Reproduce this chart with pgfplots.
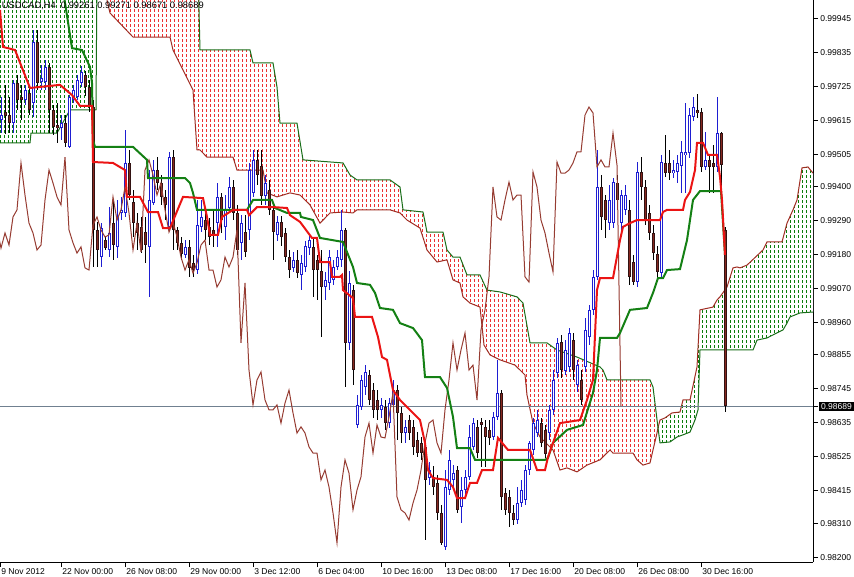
\documentclass[border=0pt]{standalone}
\usepackage{fontspec}
\setmainfont{Liberation Sans}
\usepackage{pgfplots}
\pgfplotsset{compat=1.18}
\usepackage{pgfplotstable}
\usepgfplotslibrary{fillbetween}

\definecolor{bullblue}{RGB}{30,30,210}
\definecolor{bearout}{RGB}{50,18,18}
\definecolor{bearin}{RGB}{135,40,32}
\definecolor{tenkan}{RGB}{235,20,20}
\definecolor{kijun}{RGB}{20,128,20}
\definecolor{chikou}{RGB}{150,60,50}
\definecolor{spanA}{RGB}{160,45,35}
\definecolor{spanB}{RGB}{25,110,25}
\definecolor{cloudred}{RGB}{235,50,50}
\definecolor{cloudgreen}{RGB}{10,125,10}
\definecolor{priceline}{RGB}{112,128,144}

% t = trading hours from first bar (4 h per bar), u = 1 bullish / 0 bearish
\pgfplotstableread{
t u o h l c
0 1 0.99616 0.99691 0.99574 0.99632
4 0 0.99642 0.99730 0.99574 0.99629
8 0 0.99632 0.99691 0.99574 0.99606
12 1 0.99606 0.99746 0.99574 0.99736
16 0 0.99736 0.99762 0.99649 0.99681
20 0 0.99691 0.99730 0.99616 0.99681
24 1 0.99681 0.99730 0.99665 0.99713
28 0 0.99704 0.99730 0.99632 0.99649
32 1 0.99671 0.99908 0.99626 0.99869
36 0 0.99869 0.99908 0.99713 0.99736
40 1 0.99739 0.99794 0.99713 0.99752
44 1 0.99739 0.99811 0.99713 0.99788
48 0 0.99788 0.99801 0.99574 0.99649
52 0 0.99649 0.99665 0.99568 0.99594
56 0 0.99600 0.99671 0.99542 0.99590
60 1 0.99590 0.99632 0.99551 0.99606
64 0 0.99606 0.99632 0.99529 0.99542
68 1 0.99529 0.99697 0.99525 0.99691
72 1 0.99681 0.99730 0.99671 0.99713
76 1 0.99691 0.99762 0.99681 0.99746
80 1 0.99739 0.99794 0.99723 0.99772
84 0 0.99762 0.99778 0.99697 0.99723
88 0 0.99723 0.99746 0.99642 0.99658
92 0 0.99658 0.99681 0.99140 0.99260
96 0 0.99260 0.99286 0.99140 0.99195
100 1 0.99172 0.99282 0.99140 0.99266
104 0 0.99227 0.99237 0.99195 0.99201
108 1 0.99195 0.99334 0.99172 0.99250
112 0 0.99282 0.99357 0.99163 0.99211
116 1 0.99205 0.99357 0.99169 0.99302
120 1 0.99315 0.99367 0.99292 0.99325
124 1 0.99315 0.99584 0.99302 0.99477
128 0 0.99477 0.99519 0.99357 0.99373
132 0 0.99351 0.99389 0.99237 0.99282
136 0 0.99282 0.99315 0.99195 0.99250
140 0 0.99270 0.99302 0.99185 0.99195
144 0 0.99253 0.99302 0.99153 0.99211
148 1 0.99205 0.99454 0.99043 0.99357
152 1 0.99347 0.99487 0.99341 0.99454
156 0 0.99454 0.99496 0.99389 0.99412
160 0 0.99412 0.99438 0.99341 0.99367
164 0 0.99367 0.99389 0.99292 0.99341
168 1 0.99270 0.99513 0.99260 0.99496
172 0 0.99496 0.99519 0.99195 0.99260
176 0 0.99260 0.99270 0.99195 0.99218
180 0 0.99218 0.99237 0.99163 0.99185
184 1 0.99179 0.99227 0.99169 0.99205
188 0 0.99205 0.99227 0.99108 0.99137
192 0 0.99153 0.99179 0.99108 0.99130
196 1 0.99130 0.99357 0.99120 0.99276
200 1 0.99270 0.99357 0.99253 0.99302
204 0 0.99292 0.99325 0.99227 0.99260
208 0 0.99270 0.99299 0.99211 0.99237
212 0 0.99260 0.99325 0.99205 0.99244
216 1 0.99282 0.99412 0.99205 0.99367
220 0 0.99367 0.99380 0.99250 0.99292
224 1 0.99270 0.99373 0.99227 0.99325
228 1 0.99334 0.99432 0.99315 0.99399
232 0 0.99399 0.99422 0.99292 0.99315
236 0 0.99315 0.99341 0.99179 0.99195
240 1 0.99218 0.99308 0.99163 0.99282
244 0 0.99253 0.99308 0.99172 0.99189
248 1 0.99260 0.99477 0.99227 0.99454
252 1 0.99380 0.99519 0.99367 0.99487
256 0 0.99487 0.99519 0.99406 0.99438
260 0 0.99470 0.99519 0.99341 0.99373
264 1 0.99373 0.99438 0.99341 0.99412
268 0 0.99389 0.99422 0.99308 0.99325
272 0 0.99325 0.99341 0.99163 0.99253
276 1 0.99244 0.99308 0.99227 0.99286
280 0 0.99286 0.99308 0.99211 0.99237
284 0 0.99250 0.99266 0.99156 0.99172
288 0 0.99172 0.99195 0.99104 0.99130
292 1 0.99137 0.99189 0.99124 0.99163
296 0 0.99163 0.99195 0.99104 0.99120
300 1 0.99114 0.99179 0.99065 0.99153
304 1 0.99140 0.99227 0.99124 0.99211
308 1 0.99201 0.99244 0.99179 0.99227
312 0 0.99205 0.99237 0.99043 0.99130
316 0 0.99163 0.99179 0.99033 0.99130
320 0 0.99130 0.99195 0.98913 0.99075
324 1 0.99075 0.99124 0.99033 0.99098
328 1 0.99088 0.99195 0.99065 0.99172
332 1 0.99098 0.99163 0.99082 0.99140
336 1 0.99140 0.99195 0.99130 0.99172
340 1 0.99163 0.99325 0.99140 0.99260
344 0 0.99260 0.99266 0.98751 0.98894
348 1 0.98894 0.99130 0.98871 0.99088
352 0 0.99065 0.99082 0.98758 0.98806
356 1 0.98628 0.98725 0.98618 0.98693
360 1 0.98686 0.98790 0.98677 0.98774
364 1 0.98751 0.98822 0.98725 0.98800
368 0 0.98790 0.98806 0.98693 0.98709
372 0 0.98741 0.98764 0.98651 0.98677
376 0 0.98709 0.98741 0.98644 0.98677
380 1 0.98677 0.98715 0.98651 0.98693
384 0 0.98686 0.98709 0.98612 0.98634
388 1 0.98634 0.98715 0.98618 0.98699
392 1 0.98693 0.98774 0.98670 0.98741
396 0 0.98741 0.98758 0.98579 0.98667
400 0 0.98667 0.98689 0.98570 0.98602
404 1 0.98602 0.98644 0.98570 0.98622
408 0 0.98644 0.98660 0.98579 0.98602
412 0 0.98622 0.98644 0.98531 0.98557
416 0 0.98579 0.98605 0.98524 0.98537
420 0 0.98570 0.98589 0.98515 0.98537
424 0 0.98557 0.98579 0.98255 0.98450
428 1 0.98456 0.98508 0.98434 0.98482
432 0 0.98460 0.98498 0.98401 0.98427
436 0 0.98440 0.98466 0.98320 0.98343
440 0 0.98343 0.98369 0.98239 0.98246
444 1 0.98233 0.98482 0.98223 0.98427
448 1 0.98417 0.98547 0.98401 0.98515
452 1 0.98450 0.98498 0.98417 0.98472
456 0 0.98482 0.98498 0.98343 0.98353
460 1 0.98362 0.98460 0.98310 0.98417
464 1 0.98417 0.98482 0.98401 0.98460
468 1 0.98460 0.98628 0.98450 0.98589
472 1 0.98557 0.98651 0.98547 0.98634
476 0 0.98622 0.98644 0.98521 0.98537
480 0 0.98638 0.98651 0.98492 0.98628
484 0 0.98622 0.98644 0.98492 0.98589
488 0 0.98612 0.98644 0.98563 0.98586
492 1 0.98589 0.98670 0.98579 0.98654
496 1 0.98654 0.98839 0.98644 0.98732
500 0 0.98732 0.98741 0.98353 0.98395
504 0 0.98408 0.98424 0.98336 0.98353
508 0 0.98395 0.98417 0.98298 0.98343
512 0 0.98343 0.98369 0.98304 0.98320
516 1 0.98320 0.98427 0.98310 0.98375
520 1 0.98375 0.98450 0.98362 0.98417
524 1 0.98385 0.98498 0.98369 0.98482
528 1 0.98482 0.98579 0.98466 0.98570
532 1 0.98547 0.98651 0.98531 0.98634
536 1 0.98602 0.98677 0.98589 0.98644
540 0 0.98634 0.98651 0.98557 0.98570
544 0 0.98612 0.98628 0.98521 0.98537
548 1 0.98602 0.98693 0.98579 0.98677
552 1 0.98677 0.98806 0.98660 0.98774
556 1 0.98796 0.98910 0.98780 0.98894
560 0 0.98897 0.98920 0.98780 0.98806
564 1 0.98806 0.98903 0.98790 0.98871
568 1 0.98816 0.98942 0.98800 0.98926
572 0 0.98903 0.98926 0.98774 0.98806
576 1 0.98758 0.98839 0.98735 0.98822
580 0 0.98774 0.98806 0.98693 0.98709
584 1 0.98816 0.98975 0.98800 0.98936
588 1 0.98913 0.99017 0.98887 0.99001
592 1 0.99001 0.99130 0.98984 0.99108
596 1 0.99108 0.99519 0.99098 0.99399
600 0 0.99399 0.99438 0.99260 0.99302
604 0 0.99357 0.99373 0.99234 0.99292
608 1 0.99282 0.99406 0.99260 0.99357
612 1 0.99282 0.99428 0.99266 0.99415
616 0 0.99412 0.99438 0.99325 0.99357
620 1 0.99282 0.99389 0.99260 0.99373
624 1 0.99325 0.99406 0.99308 0.99373
628 0 0.99325 0.99357 0.99082 0.99108
632 0 0.99156 0.99179 0.99082 0.99091
636 1 0.99091 0.99480 0.99075 0.99448
640 0 0.99448 0.99496 0.99357 0.99399
644 0 0.99399 0.99422 0.99276 0.99292
648 0 0.99315 0.99341 0.99227 0.99250
652 0 0.99250 0.99276 0.99163 0.99185
656 0 0.99185 0.99211 0.99098 0.99124
660 1 0.99120 0.99503 0.99104 0.99480
664 0 0.99477 0.99568 0.99432 0.99444
668 0 0.99477 0.99519 0.99422 0.99444
672 1 0.99444 0.99487 0.99428 0.99454
676 1 0.99448 0.99503 0.99412 0.99477
680 1 0.99470 0.99551 0.99380 0.99513
684 1 0.99503 0.99671 0.99380 0.99513
688 1 0.99509 0.99658 0.99493 0.99632
692 1 0.99626 0.99691 0.99616 0.99658
696 0 0.99649 0.99700 0.99623 0.99639
700 0 0.99642 0.99655 0.99448 0.99464
704 1 0.99464 0.99577 0.99454 0.99487
708 0 0.99487 0.99509 0.99380 0.99464
712 0 0.99477 0.99535 0.99380 0.99464
716 1 0.99464 0.99691 0.99448 0.99574
720 0 0.99574 0.99577 0.99357 0.99470
724 0 0.99261 0.99271 0.98671 0.98689
}\candles

\pgfplotstableread{
t y
-1 0.99973
2 0.99853
14 0.99843
29 0.99720
59 0.99730
71 0.99697
79 0.99662
91 0.99662
92 0.99480
112 0.99477
124 0.99454
126 0.99367
139 0.99367
147 0.99318
157 0.99318
162 0.99266
169 0.99266
182 0.99367
202 0.99363
206 0.99302
209 0.99244
217 0.99244
221 0.99302
232 0.99325
246 0.99325
248 0.99308
256 0.99334
272 0.99334
286 0.99331
289 0.99308
299 0.99286
311 0.99234
316 0.99234
319 0.99156
329 0.99156
331 0.99108
339 0.99108
341 0.99114
342 0.99065
352 0.99039
354 0.98978
371 0.98978
377 0.98913
381 0.98848
386 0.98839
392 0.98741
399 0.98709
419 0.98644
424 0.98570
427 0.98482
432 0.98456
446 0.98450
452 0.98427
456 0.98391
464 0.98391
469 0.98440
476 0.98440
481 0.98482
492 0.98482
497 0.98586
507 0.98547
529 0.98547
536 0.98482
544 0.98482
547 0.98524
552 0.98570
559 0.98634
579 0.98644
586 0.98709
592 0.98774
596 0.99065
599 0.99104
612 0.99104
619 0.99227
622 0.99270
629 0.99282
636 0.99292
659 0.99292
662 0.99318
666 0.99325
682 0.99325
684 0.99357
689 0.99383
694 0.99454
696 0.99542
702 0.99542
707 0.99503
716 0.99503
719 0.99432
721 0.99357
724 0.99179
}\tenkantab

\pgfplotstableread{
t y
-1 1.00102
59 1.00102
71 0.99849
81 0.99843
89 0.99788
91 0.99736
92 0.99551
94 0.99529
132 0.99529
146 0.99487
147 0.99428
184 0.99428
189 0.99412
192 0.99380
196 0.99325
246 0.99325
252 0.99357
271 0.99357
274 0.99331
286 0.99315
299 0.99315
300 0.99302
312 0.99292
319 0.99234
342 0.99221
352 0.99140
356 0.99088
369 0.99082
374 0.99056
379 0.99007
392 0.99001
399 0.98958
412 0.98942
421 0.98903
424 0.98783
439 0.98783
446 0.98748
452 0.98654
456 0.98553
469 0.98553
474 0.98515
544 0.98515
547 0.98521
552 0.98570
566 0.98612
582 0.98628
592 0.98732
596 0.98806
599 0.98910
616 0.98910
619 0.98926
629 0.99001
646 0.99007
652 0.99056
657 0.99104
662 0.99104
666 0.99130
679 0.99133
686 0.99227
692 0.99357
699 0.99386
720 0.99386
724 0.99179
}\kijuntab

\pgfplotstableread{
t y
-1 1.00102
97 1.00102
104 1.00102
106 1.00005
109 0.99963
132 0.99885
169 0.99885
172 0.99843
192 0.99713
196 0.99519
199 0.99519
206 0.99496
232 0.99496
236 0.99454
262 0.99454
266 0.99380
276 0.99367
289 0.99380
299 0.99373
309 0.99341
319 0.99282
329 0.99315
342 0.99318
352 0.99315
356 0.99325
389 0.99325
399 0.99315
406 0.99292
419 0.99266
426 0.99195
436 0.99156
446 0.99163
452 0.99098
459 0.99088
462 0.99043
469 0.99023
479 0.99010
483 0.98887
489 0.98855
499 0.98839
514 0.98822
524 0.98790
526 0.98725
532 0.98634
539 0.98589
552 0.98547
559 0.98482
566 0.98489
576 0.98476
586 0.98498
599 0.98515
609 0.98547
612 0.98537
632 0.98537
636 0.98515
642 0.98498
649 0.98505
652 0.98547
656 0.98602
657 0.98619
659 0.98644
664 0.98651
671 0.98667
679 0.98670
682 0.98709
689 0.98709
696 0.98816
699 0.99001
712 0.99010
716 0.99033
719 0.99043
726 0.99075
732 0.99137
736 0.99140
739 0.99137
746 0.99146
762 0.99195
766 0.99221
781 0.99221
786 0.99282
792 0.99325
796 0.99357
801 0.99461
807 0.99464
812 0.99444
}\spanAtab

\pgfplotstableread{
t y
-1 0.99542
29 0.99542
30 0.99574
56 0.99574
69 0.99649
95 0.99649
96 1.00102
97 1.00102
197 1.00102
199 0.99843
249 0.99843
252 0.99801
272 0.99801
276 0.99723
279 0.99606
296 0.99606
302 0.99487
342 0.99477
349 0.99438
356 0.99422
389 0.99422
399 0.99399
402 0.99325
422 0.99318
426 0.99253
442 0.99253
446 0.99195
452 0.99172
459 0.99172
466 0.99114
479 0.99114
486 0.99065
499 0.99059
516 0.99043
522 0.99023
529 0.98894
546 0.98894
556 0.98871
576 0.98848
599 0.98816
602 0.98806
606 0.98774
649 0.98774
652 0.98751
657 0.98619
659 0.98570
669 0.98573
676 0.98589
682 0.98596
689 0.98605
694 0.98644
697 0.98677
699 0.98871
752 0.98871
756 0.98903
766 0.98910
782 0.98936
786 0.98958
789 0.98978
799 0.98991
812 0.98994
}\spanBtab

\pgfplotsset{
  candlebar/.style={only marks, mark=*, mark size=0pt, mark options={draw=none, fill=none}, forget plot},
  cloudtex/.style={draw=none, fill=white, forget plot, path picture={%
    \foreach \k in {0,...,150}{%
      \draw[#1, line width=0.6pt, dash pattern=on 1.8pt off 1.95pt]
        ([xshift=\k*3pt]path picture bounding box.south west) -- ([xshift=\k*3pt]path picture bounding box.north west);}}},
}

\begin{document}
\begin{tikzpicture}
\begin{axis}[
  at={(0pt,0pt)}, anchor=north west,
  scale only axis, width=609.75pt, height=421.5pt,
  xmin=-1, xmax=812, ymin=0.98184, ymax=1.00005,
  axis x line*=bottom, axis y line*=right,
  axis line style={-, black, line width=0.75pt},
  tick style={black, line width=0.75pt},
  tick align=outside, major tick length=3.75pt,
  font=\fontsize{6.4pt}{7.7pt}\selectfont,
  xtick={60,124,188,252,316,380,444,508,572,636,700},
  xticklabels={22 Nov 00:00,26 Nov 08:00,29 Nov 00:00,3 Dec 12:00,6 Dec 04:00,10 Dec 16:00,13 Dec 08:00,17 Dec 16:00,20 Dec 08:00,26 Dec 08:00,30 Dec 16:00},
  extra x ticks={-1}, extra x tick labels={9 Nov 2012},
  xticklabel style={anchor=north west, inner sep=0pt, xshift=0.75pt, yshift=-1pt},
  ytick={0.98200,0.98310,0.98415,0.98525,0.98635,0.98745,0.98855,0.98960,0.99070,0.99180,0.99290,0.99400,0.99505,0.99615,0.99725,0.99835,0.99945},
  yticklabels={0.98200,0.98310,0.98415,0.98525,0.98635,0.98745,0.98855,0.98960,0.99070,0.99180,0.99290,0.99400,0.99505,0.99615,0.99725,0.99835,0.99945},
  yticklabel style={anchor=west, inner sep=0pt, xshift=1.5pt},
  extra y ticks={0.98689}, extra y tick labels={0.98689},
  extra y tick style={yticklabel style={fill=black, text=white, inner xsep=1.8pt, inner ysep=1.2pt, xshift=-1.2pt}},
]
% cloud: invisible pieces for the fills
\addplot[draw=none, forget plot, name path=A1, restrict x to domain=-1:97] table[x=t, y=y] {\spanAtab};
\addplot[draw=none, forget plot, name path=B1, restrict x to domain=-1:97] table[x=t, y=y] {\spanBtab};
\addplot[draw=none, forget plot, name path=A2, restrict x to domain=97:657] table[x=t, y=y] {\spanAtab};
\addplot[draw=none, forget plot, name path=B2, restrict x to domain=97:657] table[x=t, y=y] {\spanBtab};
\addplot[draw=none, forget plot, name path=A3, restrict x to domain=657:812] table[x=t, y=y] {\spanAtab};
\addplot[draw=none, forget plot, name path=B3, restrict x to domain=657:812] table[x=t, y=y] {\spanBtab};
\addplot[cloudtex=cloudgreen] fill between[of=A1 and B1];
\addplot[cloudtex=cloudred] fill between[of=A2 and B2];
\addplot[cloudtex=cloudgreen] fill between[of=A3 and B3];
% cloud boundaries
\addplot[spanA, line width=0.75pt] table[x=t, y=y] {\spanAtab};
\addplot[spanB, line width=0.75pt] table[x=t, y=y] {\spanBtab};
% current price line
\addplot[priceline, line width=0.75pt] coordinates {(-1,0.98689) (812,0.98689)};
% wicks
\addplot[candlebar, restrict expr to domain={\thisrow{u}}{0.5:1.5},
  error bars/.cd, y dir=both, y explicit, error mark=none,
  error bar style={draw=bullblue, solid, line width=0.75pt}]
  table[x=t, y expr={(\thisrow{h}+\thisrow{l})/2}, y error expr={(\thisrow{h}-\thisrow{l})/2}] {\candles};
\addplot[candlebar, restrict expr to domain={\thisrow{u}}{-0.5:0.5},
  error bars/.cd, y dir=both, y explicit, error mark=none,
  error bar style={draw=black, solid, line width=0.75pt}]
  table[x=t, y expr={(\thisrow{h}+\thisrow{l})/2}, y error expr={(\thisrow{h}-\thisrow{l})/2}] {\candles};
% bodies
\addplot[candlebar, restrict expr to domain={\thisrow{u}}{0.5:1.5},
  error bars/.cd, y dir=both, y explicit, error mark=none,
  error bar style={draw=bullblue, solid, line width=2.25pt}]
  table[x=t, y expr={(\thisrow{o}+\thisrow{c})/2}, y error expr={abs(\thisrow{o}-\thisrow{c})/2}] {\candles};
\addplot[candlebar, restrict expr to domain={\thisrow{u}}{0.5:1.5},
  error bars/.cd, y dir=both, y explicit, error mark=none,
  error bar style={draw=white, solid, line width=0.75pt}]
  table[x=t, y expr={(\thisrow{o}+\thisrow{c})/2}, y error expr={max(abs(\thisrow{o}-\thisrow{c})/2-0.0000324,0)}] {\candles};
\addplot[candlebar, restrict expr to domain={\thisrow{u}}{-0.5:0.5},
  error bars/.cd, y dir=both, y explicit, error mark=none,
  error bar style={draw=bearout, solid, line width=2.25pt}]
  table[x=t, y expr={(\thisrow{o}+\thisrow{c})/2}, y error expr={abs(\thisrow{o}-\thisrow{c})/2}] {\candles};
\addplot[candlebar, restrict expr to domain={\thisrow{u}}{-0.5:0.5},
  error bars/.cd, y dir=both, y explicit, error mark=none,
  error bar style={draw=bearin, solid, line width=0.75pt}]
  table[x=t, y expr={(\thisrow{o}+\thisrow{c})/2}, y error expr={max(abs(\thisrow{o}-\thisrow{c})/2-0.0000324,0)}] {\candles};
% chikou span: closes shifted 26 bars back
\addplot[chikou, line width=0.75pt] table[x expr=\thisrow{t}-104, y=c] {\candles};
% tenkan / kijun
\addplot[kijun, line width=1.5pt] table[x=t, y=y] {\kijuntab};
\addplot[tenkan, line width=1.5pt] table[x=t, y=y] {\tenkantab};
\node[anchor=north west, inner sep=0pt, font=\fontsize{7pt}{8pt}\selectfont] at (rel axis cs:0.002,0.997) {USDCAD,H4\ \ 0.99261\ 0.99271\ 0.98671\ 0.98689};
\end{axis}
\pgfresetboundingbox
\path (0pt,0pt) rectangle (640.5pt,-432.75pt);
\end{tikzpicture}
\end{document}
